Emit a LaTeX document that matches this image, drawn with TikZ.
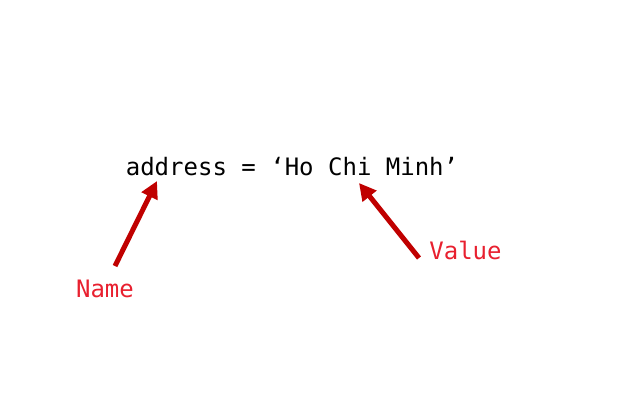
\documentclass[tikz,border=0pt]{standalone}
\usepackage{fontspec}
\setmonofont{DejaVu Sans Mono}
\usetikzlibrary{arrows.meta}
\definecolor{lblred}{HTML}{E8202F}
\definecolor{arrred}{HTML}{C00000}
\tikzset{
  code/.style={font=\fontsize{24}{28}\selectfont\ttfamily, text=black, inner sep=0pt},
  lbl/.style={font=\fontsize{24}{28}\selectfont\ttfamily, text=lblred, inner sep=0pt},
  pointer/.style={draw=arrred, line width=5pt, -{Triangle[length=17pt,width=17pt]}}
}
\begin{document}
\begin{tikzpicture}[x=1pt,y=-1pt]
\useasboundingbox (0,0) rectangle (640,400);
\node[code, anchor=base] (code) at (292,175) {address = ‘Ho Chi Minh’};
\node[lbl, anchor=base] (name) at (105,297) {Name};
\node[lbl, anchor=base] (value) at (465.5,259) {Value};
\coordinate (ns) at (115,266);
\coordinate (nt) at (157,181);
\coordinate (vs) at (419,258);
\coordinate (vt) at (359,183);
\draw[pointer] (ns) -- (nt);
\draw[pointer] (vs) -- (vt);
\end{tikzpicture}
\end{document}
